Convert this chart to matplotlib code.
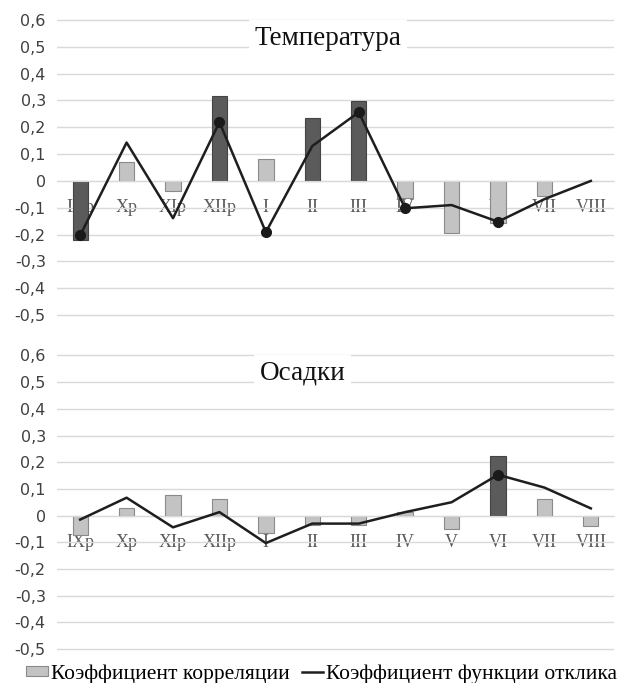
import numpy as np
import matplotlib
matplotlib.use("Agg")
import matplotlib.pyplot as plt
from matplotlib.patches import Patch
from matplotlib.lines import Line2D
from matplotlib.transforms import blended_transform_factory

plt.rcParams['font.family'] = ['Liberation Serif', 'DejaVu Serif']

months = ['IXp', 'Xp', 'XIp', 'XIIp', 'I', 'II', 'III', 'IV', 'V', 'VI', 'VII', 'VIII']

# Температура
temp_corr = [-0.222, 0.072, -0.037, 0.317, 0.083, 0.234, 0.298, -0.065, -0.195, -0.157, -0.058, 0.0]
temp_corr_sig = [1, 0, 0, 1, 0, 1, 1, 0, 0, 0, 0, 0]
temp_resp = [-0.203, 0.143, -0.139, 0.219, -0.191, 0.13, 0.256, -0.102, -0.09, -0.152, -0.068, 0.0]
temp_resp_sig = [1, 0, 0, 1, 1, 0, 1, 1, 0, 1, 0, 0]

# Осадки
prec_corr = [-0.072, 0.029, 0.076, 0.063, -0.066, -0.036, -0.036, 0.012, -0.05, 0.222, 0.063, -0.04]
prec_corr_sig = [0, 0, 0, 0, 0, 0, 0, 0, 0, 1, 0, 0]
prec_resp = [-0.015, 0.067, -0.044, 0.013, -0.103, -0.03, -0.03, 0.013, 0.05, 0.153, 0.105, 0.027]
prec_resp_sig = [0, 0, 0, 0, 0, 0, 0, 0, 0, 1, 0, 0]

yticks = [0.6, 0.5, 0.4, 0.3, 0.2, 0.1, 0, -0.1, -0.2, -0.3, -0.4, -0.5]

DARK = '#5b5b5b'
LIGHT = '#c3c3c3'


def fmt(v):
    if v == 0:
        return '0'
    return ('%.1f' % v).replace('.', ',')


def panel(ax, corr, corr_sig, resp, resp_sig, title, title_x):
    x = np.arange(len(months))
    colors = [DARK if s else LIGHT for s in corr_sig]
    edges = ['#444444' if s else '#8a8a8a' for s in corr_sig]
    ax.bar(x, corr, width=0.33, color=colors, edgecolor=edges, linewidth=0.8, zorder=2)
    ax.plot(x, resp, color='#1e1e1e', lw=1.8, zorder=3)
    # markers only where response coefficient is significant
    xs = [xi for xi, s in zip(x, resp_sig) if s]
    ys = [r for r, s in zip(resp, resp_sig) if s]
    ax.plot(xs, ys, 'o', color='#1a1a1a', ms=7, zorder=4)

    ax.set_xlim(-0.5, len(months) - 0.5)
    ax.set_ylim(-0.51, 0.61)
    ax.set_yticks(yticks)
    ax.set_yticklabels([fmt(v) for v in yticks], fontsize=11.5, color='#404040',
                       family='DejaVu Sans')
    ax.yaxis.grid(True, color='#d9d9d9', lw=1.0, zorder=0)
    ax.set_axisbelow(True)
    for s in ['top', 'right', 'left']:
        ax.spines[s].set_visible(False)
    ax.spines['bottom'].set_position(('data', 0))
    ax.spines['bottom'].set_color('#d9d9d9')
    ax.set_xticks(x)
    ax.set_xticklabels(months, fontsize=13, color='#5a5a5a')
    ax.tick_params(axis='x', length=0, pad=13)
    ax.tick_params(axis='y', length=0, pad=8)
    for lbl in ax.get_xticklabels():
        lbl.set_zorder(5)
    trans = blended_transform_factory(ax.transAxes, ax.transData)
    ax.text(title_x, 0.508, title, transform=trans,
            ha='center', va='baseline', fontsize=19.5, color='#111111',
            bbox=dict(facecolor='white', edgecolor='none', pad=4), zorder=6)


fig = plt.figure(figsize=(6.19, 6.83), dpi=100)
ax1 = fig.add_axes([0.092, 0.5348, 0.9, 0.4399])
ax2 = fig.add_axes([0.092, 0.0458, 0.9, 0.4377])

panel(ax1, temp_corr, temp_corr_sig, temp_resp, temp_resp_sig, 'Температура', 0.487)
panel(ax2, prec_corr, prec_corr_sig, prec_resp, prec_resp_sig, 'Осадки', 0.441)

handles = [Patch(facecolor=LIGHT, edgecolor='#8a8a8a', linewidth=0.8),
           Line2D([0], [0], color='#1e1e1e', lw=1.8)]
fig.legend(handles, ['Коэффициент корреляции', 'Коэффициент функции отклика'],
           loc='center', bbox_to_anchor=(0.52, 0.013), ncol=2, frameon=False,
           fontsize=15.5, handlelength=1.0, handletextpad=0.15, columnspacing=0.55,
           handleheight=0.35, borderpad=0, borderaxespad=0)

fig.savefig('out.png', dpi=100)
